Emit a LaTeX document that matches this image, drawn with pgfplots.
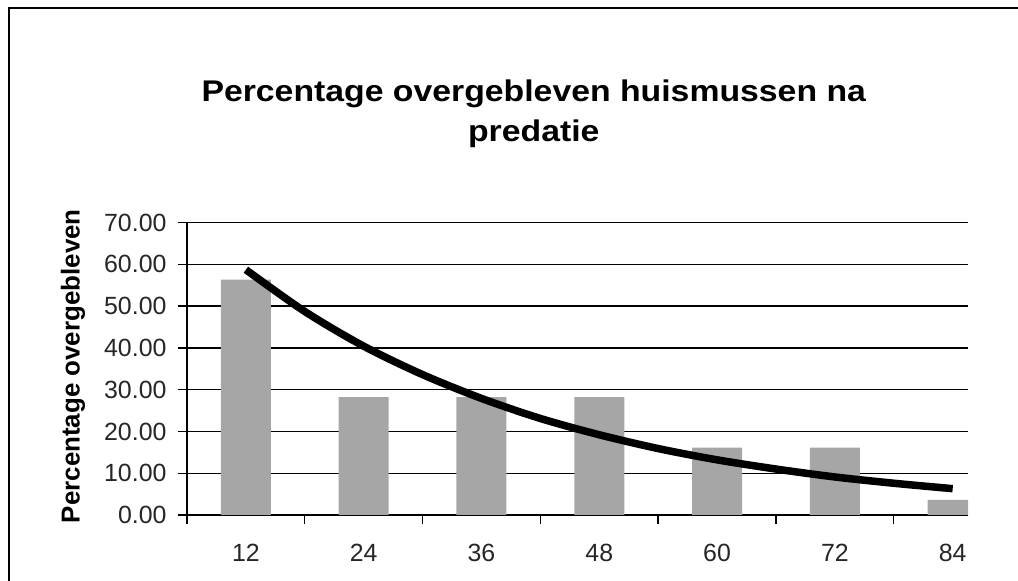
\documentclass[border=0pt]{standalone}
\usepackage{pgfplots}
\pgfplotsset{compat=1.18}
\usepackage{fontspec}
\setmainfont{Liberation Sans}
\newfontfamily\titlefont{Liberation Sans}[FakeStretch=1.13]
\definecolor{bargray}{RGB}{166,166,166}
\begin{document}
\begin{tikzpicture}
\useasboundingbox (0,0) rectangle (1018bp,581bp);
\draw[line width=2.4bp] (9bp,0) -- (9bp,573bp) -- (1018bp,573bp);
\begin{axis}[
  at={(187bp,66bp)}, anchor=south west,
  scale only axis, width=781bp, height=292.5bp,
  xmin=-0.5, xmax=6.13, ymin=0, ymax=70,
  axis x line*=bottom, axis y line*=left,
  axis line style={line width=1.8bp, -},
  tick align=outside, tick pos=left,
  major tick length=9bp,
  tick style={line width=1.4bp, black},
  xtick={-0.5,0.5,1.5,2.5,3.5,4.5,5.5},
  xticklabels={},
  extra x ticks={0,1,2,3,4,5,6},
  extra x tick labels={12,24,36,48,60,72,84},
  extra x tick style={tick style={draw=none}, major tick length=0pt},
  ytick={0,10,...,70},
  ymajorgrids,
  grid style={line width=1.3bp, black},
  /pgf/number format/assume math mode=true,
  ticklabel style={font=\fontsize{25}{30}\selectfont, text=black!85},
  yticklabel style={xshift=-8bp, /pgf/number format/.cd, fixed, fixed zerofill, precision=2},
  xticklabel style={yshift=-26bp},
  ylabel={Percentage overgebleven},
  ylabel style={at={(rel axis cs:-0.146,0.509)}, anchor=center, font=\fontsize{26}{30}\selectfont\bfseries},
  title={Percentage overgebleven huismussen na\\predatie},
  title style={at={(rel axis cs:0.444,1.35)}, anchor=center, align=center, font=\titlefont\fontsize{30}{40}\selectfont\bfseries},
]
\addplot[ybar, bar width=50bp, fill=bargray, draw=none] coordinates {
  (0,56.3) (1,28.2) (2,28.2) (3,28.2) (4,16.1) (5,16.1) (6,3.6)
};
\addplot[smooth, line width=7.5bp, black] coordinates {
  (0,58.7) (0.5,48.7) (1,40.4) (1.5,33.6) (2,27.9) (2.5,23.1) (3,19.2)
  (3.5,15.9) (4,13.2) (4.5,11.0) (5,9.1) (5.5,7.6) (6,6.3)
};
\end{axis}
\end{tikzpicture}
\end{document}
